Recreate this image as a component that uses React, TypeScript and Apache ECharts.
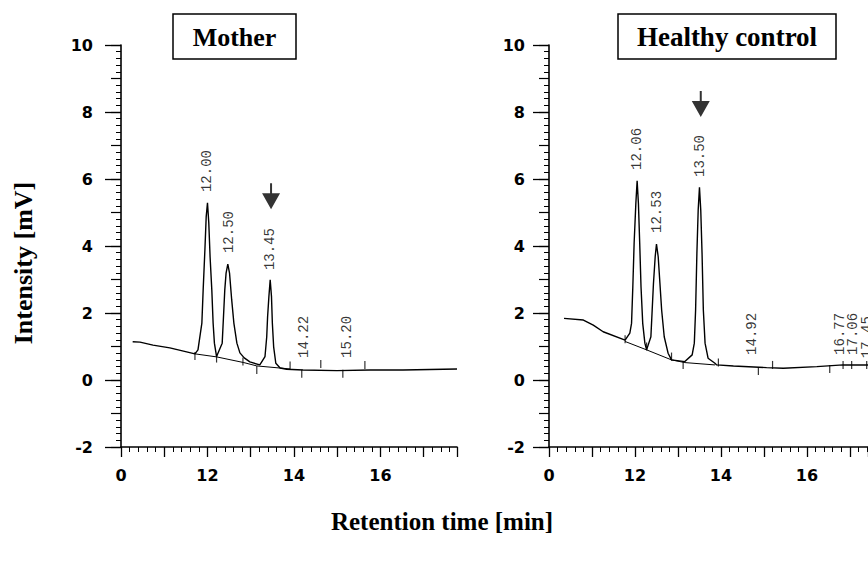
import React, { useEffect, useRef } from "react";
import * as echarts from "echarts";

// ---------- data (time [min], intensity [mV]) ----------
const xTickValues = [10, 12, 14, 16];
const xTickLabels = ["0", "12", "14", "16"];
const yTickLabels = ["-2", "0", "2", "4", "6", "8", "10"];

const motherTrace: [number, number][] = [
  [10.27, 1.14], [10.44, 1.13], [10.74, 1.04], [11.13, 0.96], [11.71, 0.78], [11.78, 0.9],
  [11.87, 1.7], [11.9, 2.69], [11.94, 3.88], [11.97, 4.87], [12.0, 5.29], [12.03, 4.69],
  [12.06, 3.68], [12.1, 2.69], [12.13, 1.7], [12.16, 1.1], [12.21, 0.7],
  [12.34, 1.1], [12.37, 1.89], [12.4, 2.69], [12.43, 3.19], [12.47, 3.46], [12.51, 3.19],
  [12.56, 2.39], [12.61, 1.7], [12.68, 1.1], [12.75, 0.81], [12.85, 0.66], [12.98, 0.54],
  [13.21, 0.45], [13.33, 0.7], [13.37, 1.29], [13.39, 1.89], [13.42, 2.49], [13.45, 2.99],
  [13.48, 2.49], [13.5, 1.7], [13.53, 0.99], [13.58, 0.5], [13.68, 0.36], [13.83, 0.32],
  [14.21, 0.3], [14.99, 0.28], [15.76, 0.3], [16.52, 0.3], [17.77, 0.33],
];
const motherBaseline: [number, number][] = [
  [11.71, 0.78], [12.21, 0.69], [12.84, 0.52], [13.14, 0.42], [13.91, 0.33],
];
const motherMarks: [number, number][] = [
  [11.71, 0.72], [12.21, 0.64], [12.82, 0.55], [13.14, 0.3], [13.91, 0.43],
  [14.18, 0.19], [14.62, 0.48], [15.13, 0.19], [15.64, 0.45],
];
const motherLabels: { t: number; y: number; text: string }[] = [
  { t: 11.99, y: 5.61, text: "12.00" },
  { t: 12.5, y: 3.79, text: "12.50" },
  { t: 13.45, y: 3.28, text: "13.45" },
  { t: 14.23, y: 0.66, text: "14.22" },
  { t: 15.23, y: 0.66, text: "15.20" },
];
const motherArrow: [number, number] = [13.47, 5.1];

const controlTrace: [number, number][] = [
  [10.35, 1.84], [10.8, 1.79], [11.03, 1.64], [11.26, 1.44], [11.77, 1.19], [11.88, 1.4],
  [11.92, 1.69], [11.95, 2.79], [11.98, 4.08], [12.02, 5.27], [12.05, 5.95], [12.08, 5.27],
  [12.11, 4.08], [12.14, 2.79], [12.18, 1.69], [12.23, 1.1], [12.27, 0.9],
  [12.37, 1.29], [12.4, 2.09], [12.43, 2.89], [12.47, 3.68], [12.5, 4.06], [12.54, 3.68],
  [12.58, 2.89], [12.62, 2.09], [12.68, 1.29], [12.77, 0.8], [12.85, 0.6], [13.16, 0.55],
  [13.33, 0.75], [13.38, 1.1], [13.41, 2.09], [13.44, 3.78], [13.47, 5.07], [13.5, 5.75],
  [13.53, 5.07], [13.56, 3.78], [13.59, 2.09], [13.63, 1.1], [13.7, 0.65], [13.86, 0.5],
  [13.9, 0.45], [14.29, 0.42], [15.06, 0.37], [15.45, 0.35], [16.23, 0.4], [16.84, 0.45],
  [17.42, 0.45],
];
const controlBaseline: [number, number][] = [
  [11.77, 1.15], [12.27, 0.9], [12.85, 0.6], [13.16, 0.52], [13.86, 0.45],
];
const controlMarks: [number, number][] = [
  [11.77, 1.22], [12.27, 1.0], [12.85, 0.7], [13.12, 0.45], [13.94, 0.52], [14.87, 0.27],
  [15.2, 0.45], [16.53, 0.33], [16.84, 0.45], [17.04, 0.45], [17.39, 0.45],
];
const controlLabels: { t: number; y: number; text: string }[] = [
  { t: 12.05, y: 6.27, text: "12.06" },
  { t: 12.51, y: 4.39, text: "12.53" },
  { t: 13.51, y: 6.06, text: "13.50" },
  { t: 14.72, y: 0.75, text: "14.92" },
  { t: 16.77, y: 0.75, text: "16.77" },
  { t: 17.07, y: 0.75, text: "17.06" },
  { t: 17.39, y: 0.65, text: "17.45" },
];
const controlArrow: [number, number] = [13.53, 7.85];

const panelTitles = ["Mother", "Healthy control"];
const yName = "Intensity [mV]";
const xName = "Retention time [min]";

// ---------- chart ----------
const ARROW = "path://M8,0 L10,0 L10,10 L18,10 L9,26 L0,10 L8,10 Z";

function xAxisCfg(gridIndex: number, max: number) {
  return {
    type: "value",
    gridIndex,
    min: 10,
    max,
    interval: 1,
    axisLine: { onZero: false, lineStyle: { color: "#000", width: 1.6 } },
    axisTick: { show: true, length: 10, lineStyle: { color: "#000", width: 1.3 } },
    minorTick: { show: true, splitNumber: 5, length: 5, lineStyle: { color: "#000", width: 1 } },
    splitLine: { show: false },
    axisLabel: {
      margin: 20,
      color: "#000",
      fontFamily: "DejaVu Sans",
      fontWeight: "bold",
      fontSize: 16,
      showMaxLabel: false,
      formatter: (v: number) => {
        const i = xTickValues.indexOf(Math.round(v * 100) / 100);
        return i >= 0 ? xTickLabels[i] : "";
      },
    },
  };
}

function yAxesCfg(gridIndex: number, labelMargin: number) {
  return [
    {
      type: "value",
      gridIndex,
      position: "left",
      min: -2,
      max: 10,
      interval: 1,
      axisLine: { show: true, onZero: false, lineStyle: { color: "#000", width: 1.6 } },
      axisTick: { show: true, length: 10, lineStyle: { color: "#000", width: 1.2 } },
      minorTick: { show: true, splitNumber: 5, length: 5, lineStyle: { color: "#000", width: 1 } },
      splitLine: { show: false },
      axisLabel: {
        margin: labelMargin,
        color: "#000",
        fontFamily: "DejaVu Sans",
        fontWeight: "bold",
        fontSize: 16,
        formatter: (v: number) => (yTickLabels.includes(String(v)) ? String(v) : ""),
      },
    },
    {
      type: "value",
      gridIndex,
      position: "left",
      offset: 0,
      min: -2,
      max: 10,
      interval: 2,
      axisLine: { show: false, onZero: false },
      axisTick: { show: true, length: 16, lineStyle: { color: "#000", width: 1.3 } },
      axisLabel: { show: false },
      splitLine: { show: false },
    },
  ];
}

function panelSeries(
  idx: number,
  trace: [number, number][],
  base: [number, number][],
  marks: [number, number][],
  labels: { t: number; y: number; text: string }[],
  arrow: [number, number]
) {
  const common = { xAxisIndex: idx, yAxisIndex: idx * 2 };
  return [
    {
      ...common,
      type: "line",
      data: trace,
      symbol: "none",
      lineStyle: { color: "#000", width: 1.4 },
      z: 3,
    },
    {
      ...common,
      type: "line",
      data: base,
      symbol: "none",
      lineStyle: { color: "#000", width: 1 },
      z: 3,
    },
    {
      ...common,
      type: "scatter",
      data: marks,
      symbol: "rect",
      symbolSize: [1.2, 8],
      itemStyle: { color: "#000" },
      z: 4,
    },
    {
      ...common,
      type: "scatter",
      data: labels.map((l) => ({ value: [l.t, l.y], name: l.text })),
      symbolSize: 0,
      itemStyle: { color: "transparent" },
      label: {
        show: true,
        position: "inside",
        rotate: 90,
        align: "left",
        verticalAlign: "middle",
        formatter: "{b}",
        color: "#000",
        fontFamily: "Liberation Mono",
        fontSize: 14,
      },
      z: 5,
    },
    {
      ...common,
      type: "scatter",
      data: [arrow],
      symbol: ARROW,
      symbolSize: [18, 26],
      symbolOffset: [0, "-50%"],
      itemStyle: { color: "#000" },
      z: 5,
    },
  ];
}

export default function App() {
  const ref = useRef<HTMLDivElement>(null);
  useEffect(() => {
    if (!ref.current) return;
    const chart = echarts.init(ref.current, null, { renderer: "svg" });
    const serif = '"Liberation Serif", "Times New Roman", serif';
    chart.setOption({
      animation: false,
      backgroundColor: "#fff",
      grid: [
        { left: 121, right: 868 - 457, top: 45, bottom: 561 - 447 },
        { left: 549, right: 0, top: 45, bottom: 561 - 447 },
      ],
      xAxis: [xAxisCfg(0, 17.77), xAxisCfg(1, 17.42)],
      yAxis: [...yAxesCfg(0, 28), ...yAxesCfg(1, 24)],
      series: [
        ...panelSeries(0, motherTrace, motherBaseline, motherMarks, motherLabels, motherArrow),
        ...panelSeries(1, controlTrace, controlBaseline, controlMarks, controlLabels, controlArrow),
      ],
      graphic: [
        {
          type: "rect",
          shape: { x: 173, y: 14, width: 123, height: 45 },
          style: { fill: "#fff", stroke: "#000", lineWidth: 1.5 },
          z: 10,
        },
        {
          type: "text",
          x: 234.5,
          y: 37,
          style: {
            text: panelTitles[0],
            font: `bold 26px ${serif}`,
            fill: "#000",
            align: "center",
            verticalAlign: "middle",
          },
          z: 11,
        },
        {
          type: "rect",
          shape: { x: 618, y: 14, width: 218, height: 45 },
          style: { fill: "#fff", stroke: "#000", lineWidth: 1.5 },
          z: 10,
        },
        {
          type: "text",
          x: 727,
          y: 37,
          style: {
            text: panelTitles[1],
            font: `bold 27px ${serif}`,
            fill: "#000",
            align: "center",
            verticalAlign: "middle",
          },
          z: 11,
        },
        {
          type: "text",
          x: 23,
          y: 263,
          rotation: Math.PI / 2,
          style: {
            text: yName,
            font: `bold 26px ${serif}`,
            fill: "#000",
            align: "center",
            verticalAlign: "middle",
          },
        },
        {
          type: "text",
          x: 442,
          y: 521,
          style: {
            text: xName,
            font: `bold 25px ${serif}`,
            fill: "#000",
            align: "center",
            verticalAlign: "middle",
          },
        },
      ],
    });
    return () => chart.dispose();
  }, []);
  return (
    <div
      ref={ref}
      style={{ position: "absolute", left: 0, top: 0, width: 868, height: 561 }}
    />
  );
}
